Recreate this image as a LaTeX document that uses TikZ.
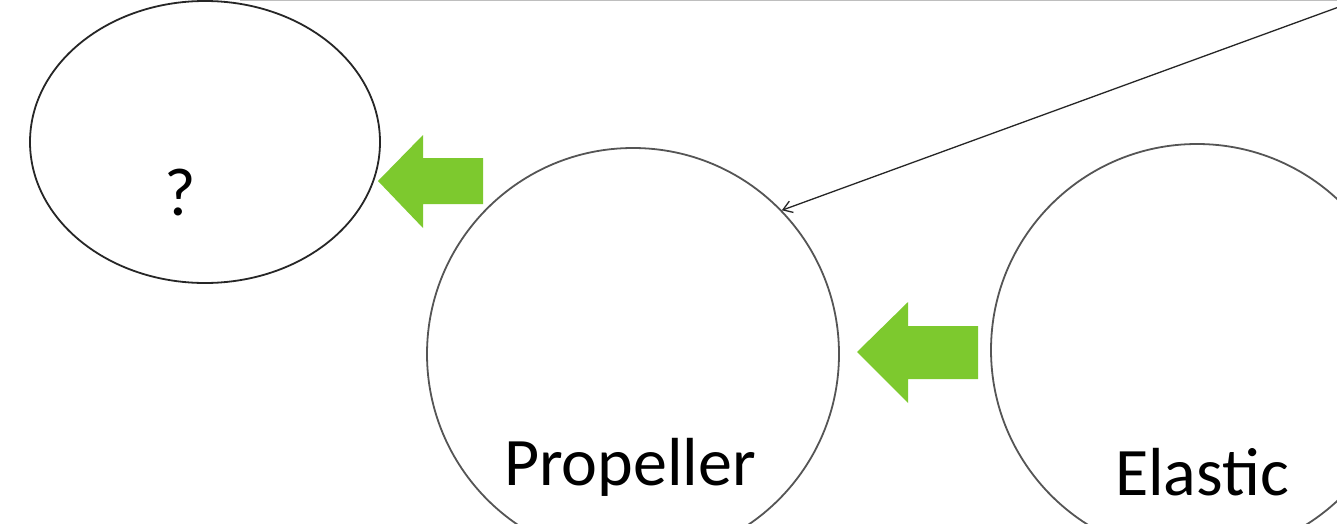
\documentclass[tikz,border=0pt]{standalone}
\usepackage{fontspec}
\setmainfont{Carlito}
\usetikzlibrary{shapes.geometric,arrows.meta}
\definecolor{arrowgreen}{RGB}{125,201,46}
\definecolor{rimgray}{RGB}{85,85,85}
\definecolor{topgray}{RGB}{190,190,190}
\begin{document}
\begin{tikzpicture}[x=1pt,y=-1pt,
  bubble/.style={draw=rimgray,line width=1.8pt,circle,minimum size=412pt,inner sep=0pt},
  oval/.style={draw=black!85,line width=1.8pt,ellipse,minimum width=350pt,minimum height=282pt,inner sep=0pt},
  lbl/.style={font=\fontsize{68}{80}\selectfont,anchor=base,inner sep=0pt},
  greenarrow/.style={fill=arrowgreen,draw=none}]
\clip (0,0) rectangle (1337,524);
\fill[white] (0,0) rectangle (1337,524);
\draw[topgray,line width=2pt] (240,0.5) -- (1337,0.5);
\node[oval] (q) at (205,142) {};
\node[bubble] (prop) at (633,354) {};
\node[bubble] (elas) at (1197,350) {};
\node[lbl] (qt) at (180,215) {?};
\node[lbl] (pt) at (630,485) {Propeller};
\node[lbl] (et) at (1202,495) {Elastic};
\coordinate (src) at (1358,0);
\draw[line width=1.3pt,black!85,-{Straight Barb[length=9pt,width=12pt]}] (src) -- (prop.44);
\path[greenarrow] (378,181) -- (423,135) -- (423,158) -- (483,158) -- (483,204) -- (423,204) -- (423,228) -- cycle;
\path[greenarrow] (857,352) -- (908,302) -- (908,326) -- (978,326) -- (978,379) -- (908,379) -- (908,403) -- cycle;
\end{tikzpicture}
\end{document}
